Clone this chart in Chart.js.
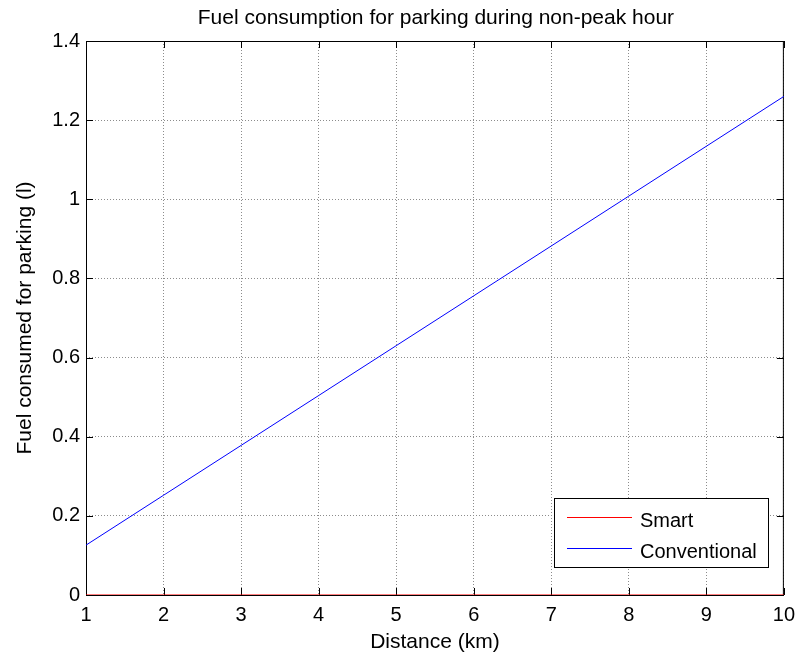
<!DOCTYPE html>
<html>
<head>
<meta charset="utf-8">
<script src="https://cdn.jsdelivr.net/npm/chart.js@4"></script>
<style>
  html, body { margin: 0; padding: 0; background: #fff; }
  canvas { display: block; }
</style>
</head>
<body>
<canvas id="myChart" width="803" height="655"></canvas>
<script>
const distancias = [1, 2, 3, 4, 5, 6, 7, 8, 9, 10];
const smart = [0, 0, 0, 0, 0, 0, 0, 0, 0, 0];
const conventional = [0.126, 0.252, 0.378, 0.504, 0.63, 0.756, 0.882, 1.008, 1.134, 1.26];
const titulo = 'Fuel consumption for parking during non-peak hour';
const fuente = '"Liberation Sans", Arial, sans-serif';

const toPoints = (xs, ys) => xs.map((x, i) => ({ x, y: ys[i] }));

// caja tipo matlab con ticks hacia dentro, titulo y leyenda
const matlabBox = {
    id: 'matlabBox',
    beforeDatasetsDraw(chart) {
        const { ctx, chartArea: a, scales } = chart;
        ctx.save();
        ctx.strokeStyle = '#000';
        ctx.lineWidth = 1;
        ctx.setLineDash([]);
        ctx.strokeRect(a.left + 0.5, a.top + 0.5, a.right - a.left - 1, a.bottom - a.top);
        const len = 7;
        ctx.beginPath();
        scales.x.ticks.forEach(t => {
            const px = Math.round(scales.x.getPixelForValue(t.value)) + 0.5;
            ctx.moveTo(px, a.bottom); ctx.lineTo(px, a.bottom - len);
            ctx.moveTo(px, a.top); ctx.lineTo(px, a.top + len);
        });
        scales.y.ticks.forEach(t => {
            const py = Math.round(scales.y.getPixelForValue(t.value)) + 0.5;
            ctx.moveTo(a.left, py); ctx.lineTo(a.left + len, py);
            ctx.moveTo(a.right, py); ctx.lineTo(a.right - len, py);
        });
        ctx.stroke();
        ctx.restore();
    },
    afterDraw(chart) {
        const { ctx, chartArea: a } = chart;
        ctx.save();
        ctx.fillStyle = '#000';
        ctx.font = '21px ' + fuente;
        ctx.textAlign = 'center';
        ctx.textBaseline = 'alphabetic';
        ctx.fillText(titulo, (a.left + a.right) / 2 + 1, 24);

        // leyenda
        const lx = 554, ly = 498, lw = 214, lh = 69;
        ctx.fillStyle = '#fff';
        ctx.fillRect(lx, ly, lw, lh);
        ctx.strokeStyle = '#000';
        ctx.lineWidth = 1;
        ctx.strokeRect(lx + 0.5, ly + 0.5, lw, lh);
        const items = [['Smart', '#ff0000', 517.5, 527], ['Conventional', '#0000ff', 548.5, 558]];
        ctx.font = '20px ' + fuente;
        ctx.textAlign = 'left';
        items.forEach(([txt, color, y, base]) => {
            ctx.strokeStyle = color;
            ctx.beginPath();
            ctx.moveTo(567, y); ctx.lineTo(632, y);
            ctx.stroke();
            ctx.fillStyle = '#000';
            ctx.fillText(txt, 640, base);
        });
        ctx.restore();
    }
};

const ctx = document.querySelector('#myChart').getContext('2d');
const myChart = new Chart(ctx, {
    type: 'line',
    data: {
        datasets: [
            {
                label: 'Smart',
                data: toPoints(distancias, smart),
                borderColor: '#ff0000',
                borderWidth: 1,
                pointRadius: 0,
                tension: 0
            },
            {
                label: 'Conventional',
                data: toPoints(distancias, conventional),
                borderColor: '#0000ff',
                borderWidth: 1,
                pointRadius: 0,
                tension: 0
            }
        ]
    },
    options: {
        responsive: false,
        animation: false,
        layout: { padding: { top: 41, right: 13, left: 0, bottom: 0 } },
        plugins: {
            legend: { display: false },
            tooltip: { enabled: false }
        },
        scales: {
            x: {
                type: 'linear',
                min: 1,
                max: 10,
                afterFit: s => { s.height = 60; },
                ticks: { stepSize: 1, color: '#000', padding: 8, font: { family: fuente, size: 20 } },
                grid: { color: '#8c8c8c', lineWidth: 1, drawTicks: false },
                border: { display: false, dash: [1, 2] },
                title: { display: true, text: 'Distance (km)', color: '#000', padding: { top: 0, bottom: 0 }, font: { family: fuente, size: 21 } }
            },
            y: {
                min: 0,
                max: 1.4,
                afterFit: s => { s.width = 86; },
                ticks: {
                    stepSize: 0.2, color: '#000', padding: 6, font: { family: fuente, size: 20 },
                    callback: v => String(Number(v.toFixed(1)))
                },
                grid: { color: '#8c8c8c', lineWidth: 1, drawTicks: false },
                border: { display: false, dash: [1, 2] },
                title: { display: true, text: 'Fuel consumed for parking (l)', color: '#000', padding: { top: 13, bottom: 0 }, font: { family: fuente, size: 21 } }
            }
        }
    },
    plugins: [matlabBox]
});
</script>
</body>
</html>
